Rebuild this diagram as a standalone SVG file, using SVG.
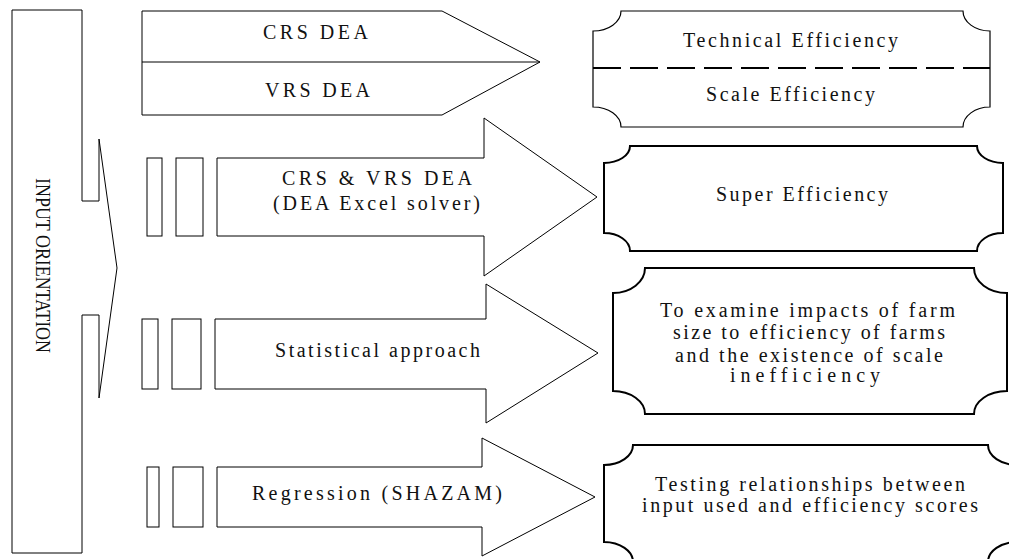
<svg xmlns="http://www.w3.org/2000/svg" width="1009" height="559" viewBox="0 0 1009 559">
<style>
.s{fill:#fff;stroke:#000;stroke-width:1}
.p{fill:#fff;stroke:#000;stroke-width:2}
.pt{fill:#fff;stroke:#000;stroke-width:1.2}
text{font-family:"Liberation Serif","Times New Roman",serif;font-size:20px;fill:#111}
</style>
<rect width="1009" height="559" fill="#fff"/>
<g id="input-orientation">
<path class="s" d="M12,10 H82 V201 H99 V139 L117,268 L99,398 V315 H82 V553 H12 Z"/>
<text transform="translate(36,178) rotate(90)" font-size="22" textLength="175" lengthAdjust="spacingAndGlyphs">INPUT ORIENTATION</text>
</g>
<g id="crs-vrs-arrow">
<path class="s" d="M142,11 H442 L540,62 L442,115 H142 Z"/>
<line x1="142" y1="62" x2="540" y2="62" stroke="#000" stroke-width="1"/>
<text x="263" y="39" textLength="105" lengthAdjust="spacing">CRS DEA</text>
<text x="265" y="97" textLength="105" lengthAdjust="spacing">VRS DEA</text>
</g>
<g id="technical-scale-efficiency">
<path class="pt" d="M621,11 H963 A27,20 0 0 0 990,31 V107 A27,20 0 0 0 963,127 H621 A28,20 0 0 0 593,107 V31 A28,20 0 0 0 621,11 Z"/>
<line x1="593" y1="68" x2="990" y2="68" stroke="#000" stroke-width="2" stroke-dasharray="28 9"/>
<text x="683" y="47" textLength="215" lengthAdjust="spacing">Technical Efficiency</text>
<text x="706" y="101" textLength="169" lengthAdjust="spacing">Scale Efficiency</text>
</g>
<g id="dea-excel-arrow">
<rect class="s" x="147" y="158" width="15" height="78"/>
<rect class="s" x="176" y="158" width="27" height="78"/>
<path class="s" d="M217,158 H484 V118 L597,197 L484,276 V236 H217 Z"/>
<text x="282" y="185" textLength="190" lengthAdjust="spacing">CRS &amp; VRS DEA</text>
<text x="273" y="210" textLength="207" lengthAdjust="spacing">(DEA Excel solver)</text>
</g>
<g id="super-efficiency">
<path class="p" d="M630,146 H977 A26,17 0 0 0 1003,163 V233 A26,18 0 0 0 977,251 H630 A26,18 0 0 0 604,233 V163 A26,17 0 0 0 630,146 Z"/>
<text x="716" y="201" textLength="172" lengthAdjust="spacing">Super Efficiency</text>
</g>
<g id="statistical-arrow">
<rect class="s" x="142" y="319" width="16" height="70"/>
<rect class="s" x="172" y="319" width="29" height="70"/>
<path class="s" d="M215,319 H486 V284 L598,353 L486,423 V389 H215 Z"/>
<text x="275" y="357" textLength="205" lengthAdjust="spacing">Statistical approach</text>
</g>
<g id="farm-size-impacts">
<path class="p" d="M645,268 H974 A33,25 0 0 0 1007,293 V391 A33,23 0 0 0 974,414 H645 A32,23 0 0 0 613,391 V293 A32,25 0 0 0 645,268 Z"/>
<text x="660" y="317" textLength="295" lengthAdjust="spacing">To examine impacts of farm</text>
<text x="673" y="339" textLength="272" lengthAdjust="spacing">size to efficiency of farms</text>
<text x="675" y="362" textLength="268" lengthAdjust="spacing">and the existence of scale</text>
<text x="730" y="382" textLength="150" lengthAdjust="spacing">inefficiency</text>
</g>
<g id="regression-arrow">
<rect class="s" x="147" y="467" width="12" height="60"/>
<rect class="s" x="173" y="467" width="30" height="60"/>
<path class="s" d="M217,467 H482 V438 L595,497 L482,556 V527 H217 Z"/>
<text x="252" y="500" textLength="250" lengthAdjust="spacing">Regression (SHAZAM)</text>
</g>
<g id="testing-relationships">
<path class="p" d="M633,445 H988 A29,20 0 0 0 1017,465 V542 A29,20 0 0 0 988,562 H633 A29,20 0 0 0 604,542 V465 A29,20 0 0 0 633,445 Z"/>
<text x="655" y="491" textLength="310" lengthAdjust="spacing">Testing relationships between</text>
<text x="642" y="512" textLength="336" lengthAdjust="spacing">input used and efficiency scores</text>
</g>
<g id="connectors"/>
</svg>
